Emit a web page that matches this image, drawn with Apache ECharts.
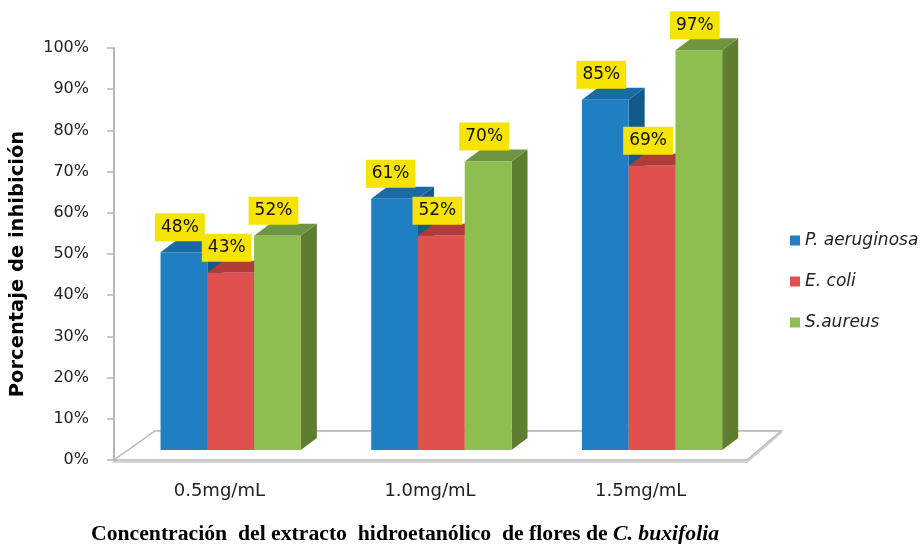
<!DOCTYPE html>
<html>
<head>
<meta charset="utf-8">
<script src="https://cdn.jsdelivr.net/npm/echarts@6/dist/echarts.min.js"></script>
<style>html,body{margin:0;padding:0;background:#fff}#chart{width:924px;height:544px}</style>
</head>
<body>
<div id="chart"></div>
<script>
const categories = ['0.5mg/mL', '1.0mg/mL', '1.5mg/mL'];
const seriesNames = ['P. aeruginosa', 'E. coli', 'S.aureus'];
const pAeruginosa = [48, 61, 85];
const eColi = [43, 52, 69];
const sAureus = [52, 70, 97];
const yTicks = [0, 10, 20, 30, 40, 50, 60, 70, 80, 90, 100];

const palette = [
  {front: '#1f7fc1', top: '#1a6aa3', side: '#135a8c'},
  {front: '#e0504e', top: '#b03c3a', side: '#a83735'},
  {front: '#8ebd50', top: '#6f9540', side: '#5e7d30'}
];

const DEPTH_X = 16, DEPTH_Y = -12, FRONT_DY = -10;

function makeBarRender(k) {
  return function (params, api) {
    const cat = api.value(0), v = api.value(1);
    const base = api.coord([cat, 0]);
    const top = api.coord([cat, v]);
    const band = api.size([1, 0])[0];
    const bw = band * 0.222;
    const center = base[0] + band * 0.054;
    const x0 = center + (k - 1.5) * bw;
    const y0 = base[1] + FRONT_DY;
    const y1 = top[1] + FRONT_DY;
    const c = palette[k];
    return {
      type: 'group',
      children: [
        {type: 'polygon', shape: {points: [[x0 + bw, y1], [x0 + bw + DEPTH_X, y1 + DEPTH_Y], [x0 + bw + DEPTH_X, y0 + DEPTH_Y], [x0 + bw, y0]]}, style: {fill: c.side}},
        {type: 'polygon', shape: {points: [[x0, y1], [x0 + bw, y1], [x0 + bw + DEPTH_X, y1 + DEPTH_Y], [x0 + DEPTH_X, y1 + DEPTH_Y]]}, style: {fill: c.top}},
        {type: 'rect', shape: {x: x0, y: y1, width: bw, height: y0 - y1}, style: {fill: c.front}},
        {type: 'text', z2: 10, style: {
          text: v + '%', x: x0 + bw / 2 - 4, y: y1 - 25, align: 'center', verticalAlign: 'middle',
          fill: '#111', font: '17px "DejaVu Sans"', backgroundColor: '#f5e400', padding: [6, 6, 5, 6]
        }}
      ]
    };
  };
}

function floorRender(params, api) {
  const cs = params.coordSys;
  const fl = [cs.x, cs.y + cs.height], fr = [cs.x + cs.width + 1, cs.y + cs.height];
  const br = [cs.x + cs.width + 35, cs.y + cs.height - 29], bl = [cs.x + 41, cs.y + cs.height - 29];
  return {
    type: 'group',
    children: [
      {type: 'polygon', shape: {points: [[fl[0], fl[1] + 2], [fr[0], fr[1] + 2], [br[0], br[1] + 2], [br[0], br[1]], [bl[0], bl[1]]]}, style: {fill: '#fff', stroke: '#c8c8c8', lineWidth: 1.5}},
      {type: 'polygon', shape: {points: [fl, fr, br, bl]}, style: {fill: '#fff', stroke: '#b8b8b8', lineWidth: 1.5}}
    ]
  };
}

const dataSets = [pAeruginosa, eColi, sAureus];
const series = [{
  type: 'custom', name: '_floor', renderItem: floorRender, data: [[0, 0]], silent: true, z: 1
}];
dataSets.forEach((arr, k) => {
  series.push({
    type: 'custom', name: seriesNames[k], z: 2,
    itemStyle: {color: palette[k].front},
    renderItem: makeBarRender(k),
    encode: {x: 0, y: 1},
    data: arr.map((v, i) => [i, v])
  });
});

const chart = echarts.init(document.getElementById('chart'), null, {renderer: 'canvas'});
chart.setOption({
  animation: false,
  backgroundColor: '#fff',
  grid: {left: 112, right: 178, top: 48, bottom: 84},
  title: {
    text: '{a|Concentración  del extracto  hidroetanólico  de flores de }{b|C. buxifolia}',
    left: 86, top: 518,
    textStyle: {
      rich: {
        a: {fontFamily: '"Liberation Serif", serif', fontWeight: 'bold', fontSize: 21.7, color: '#000'},
        b: {fontFamily: '"Liberation Serif", serif', fontWeight: 'bold', fontStyle: 'italic', fontSize: 21.7, color: '#000'}
      }
    }
  },
  legend: {
    data: seriesNames, orient: 'vertical', left: 785, top: 227,
    itemWidth: 10, itemHeight: 10, itemGap: 24, icon: 'rect',
    textStyle: {fontFamily: '"DejaVu Sans"', fontStyle: 'italic', fontSize: 17, color: '#222'}
  },
  xAxis: {
    type: 'category', data: categories,
    axisLine: {show: false}, axisTick: {show: false},
    axisLabel: {margin: 22, fontFamily: '"DejaVu Sans"', fontSize: 18, color: '#222'}
  },
  yAxis: {
    type: 'value', min: yTicks[0], max: yTicks[yTicks.length - 1], interval: 10,
    name: 'Porcentaje de inhibición', nameLocation: 'middle', nameGap: 86, nameRotate: 90,
    nameTextStyle: {fontFamily: '"DejaVu Sans"', fontWeight: 'bold', fontSize: 19.5, color: '#000', padding: [0, 20, 0, 0]},
    axisLine: {show: true, lineStyle: {color: '#b5b5b5', width: 2}},
    axisTick: {show: true, inside: false, length: 7, lineStyle: {color: '#b5b5b5', width: 1.5}},
    splitLine: {show: false},
    axisLabel: {margin: 25, formatter: '{value}%', fontFamily: '"DejaVu Sans"', fontSize: 16, color: '#222'}
  },
  series: series
});
</script>
</body>
</html>
